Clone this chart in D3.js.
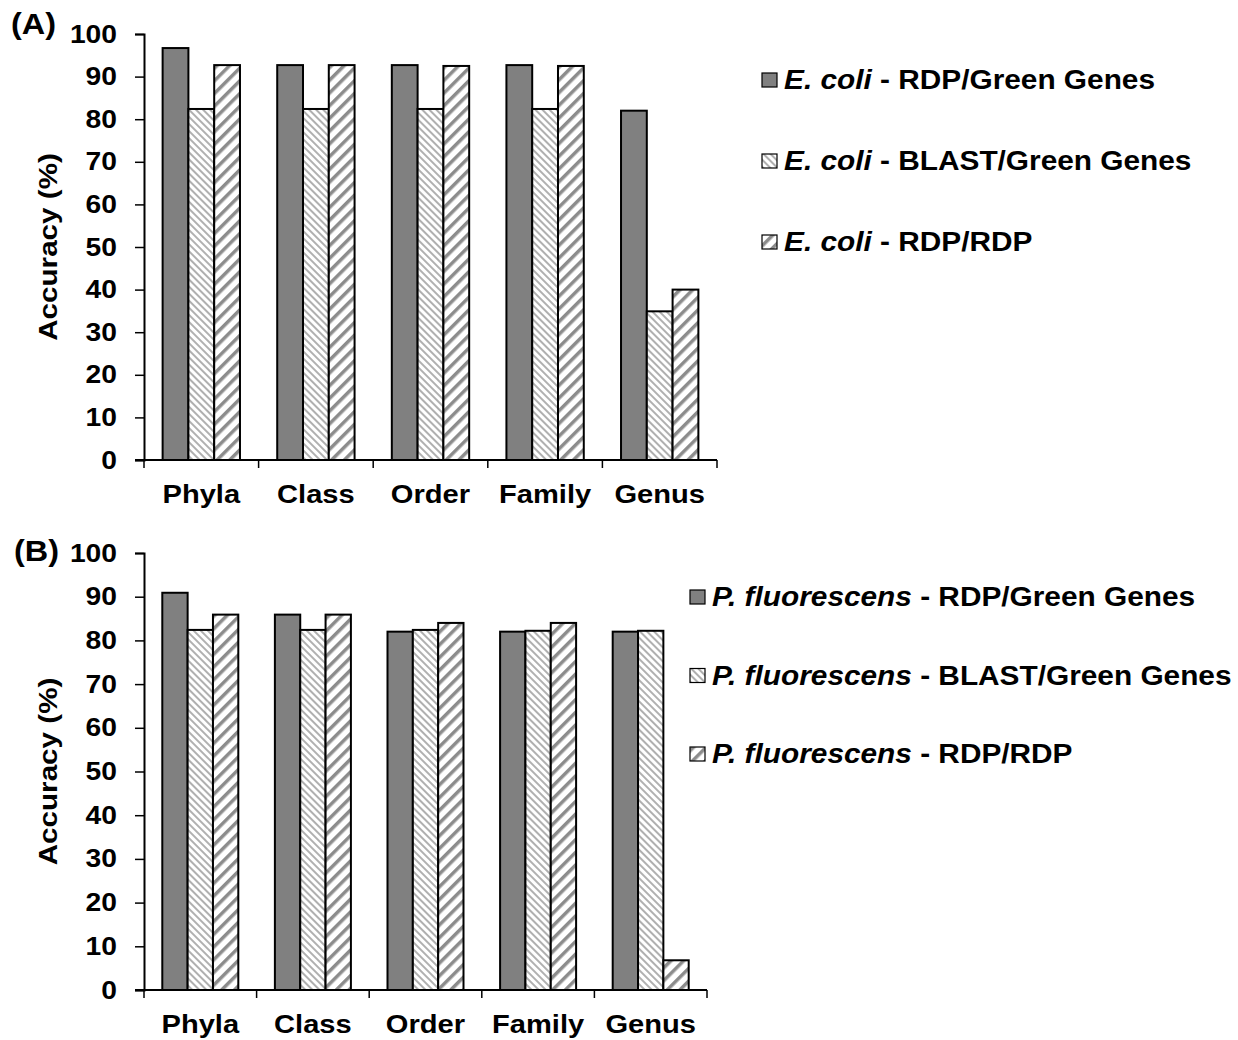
<!DOCTYPE html>
<html>
<head>
<meta charset="utf-8">
<script src="https://cdn.jsdelivr.net/npm/d3@7"></script>
<style>
  body { margin: 0; background: #fff; }
  text { font-family: "Liberation Sans", Arial, sans-serif; font-weight: bold; fill: #000; }
</style>
</head>
<body>
<div id="chart"></div>
<script>
// taxonomic levels
var categories = ["Phyla", "Class", "Order", "Family", "Genus"];
var yTicks = [0, 10, 20, 30, 40, 50, 60, 70, 80, 90, 100];

// (A) E. coli
var ecoliRdpGg   = [96.7, 92.7, 92.7, 92.7, 82.0];
var ecoliBlastGg = [82.4, 82.4, 82.4, 82.4, 34.9];
var ecoliRdpRdp  = [92.7, 92.7, 92.5, 92.5, 40.0];

// (B) P. fluorescens
var pflRdpGg   = [90.9, 85.9, 82.0, 82.0, 82.0];
var pflBlastGg = [82.4, 82.4, 82.4, 82.2, 82.2];
var pflRdpRdp  = [85.9, 85.9, 84.0, 84.0, 6.8];

var seriesNames = ["RDP/Green Genes", "BLAST/Green Genes", "RDP/RDP"];

var svg = d3.select("#chart").append("svg")
  .attr("width", 1238)
  .attr("height", 1040);

// fill patterns
var defs = svg.append("defs");
var p1 = defs.append("pattern")
  .attr("id", "fine")
  .attr("patternUnits", "userSpaceOnUse")
  .attr("width", 5).attr("height", 5)
  .attr("patternTransform", "rotate(-45)");
p1.append("rect").attr("width", 5).attr("height", 5).attr("fill", "#fff");
p1.append("rect").attr("width", 2).attr("height", 5).attr("fill", "#b0b0b0");

var p2 = defs.append("pattern")
  .attr("id", "wide")
  .attr("patternUnits", "userSpaceOnUse")
  .attr("width", 9).attr("height", 9)
  .attr("patternTransform", "rotate(45)");
p2.append("rect").attr("width", 9).attr("height", 9).attr("fill", "#fff");
p2.append("rect").attr("width", 3.5).attr("height", 9).attr("fill", "#8c8c8c");

var fills = ["#808080", "url(#fine)", "url(#wide)"];

// text in the original is a bit wider than Liberation Sans
function wideText(parent, x, y, sx, size) {
  return parent.append("text")
    .attr("transform", "translate(" + x + "," + y + ") scale(" + sx + ",1)")
    .attr("font-size", size);
}

function drawPanel(opt) {
  var x = d3.scaleBand()
    .domain(categories)
    .range([opt.left, opt.right]);

  var y = d3.scaleLinear()
    .domain([0, 100])
    .range([opt.bottom, opt.top]);

  var barW = x.bandwidth() * 0.225;
  var g = svg.append("g");

  // bars
  opt.series.forEach(function(vals, si) {
    g.selectAll(null)
      .data(vals)
      .enter()
      .append("rect")
        .attr("x", function(d, i) { return x(categories[i]) + x.bandwidth() / 2 + (si - 1.5) * barW; })
        .attr("y", function(d) { return y(d); })
        .attr("width", barW)
        .attr("height", function(d) { return opt.bottom - y(d); })
        .attr("fill", fills[si])
        .attr("stroke", "#000")
        .attr("stroke-width", 2);
  });

  // y axis
  var ya = g.append("g")
    .attr("transform", "translate(" + opt.left + ",0)")
    .call(d3.axisLeft(y).tickValues(yTicks).tickSize(9).tickPadding(0));
  ya.select(".domain").attr("stroke-width", 2);
  ya.selectAll(".tick line").attr("stroke-width", 1.5);
  ya.selectAll(".tick text")
    .attr("x", 0)
    .attr("transform", "translate(-27,0) scale(1.13,1)")
    .attr("font-size", 25)
    .attr("font-family", "'Liberation Sans', Arial, sans-serif")
    .attr("font-weight", "bold")
    .attr("fill", "#000");

  // x axis with ticks between categories
  var xa = g.append("g")
    .attr("transform", "translate(0," + opt.bottom + ")");
  xa.append("line")
    .attr("x1", opt.left - 9).attr("x2", opt.right)
    .attr("stroke", "#000").attr("stroke-width", 2);
  var bounds = categories.map(function(c) { return x(c); }).concat([opt.right]);
  xa.selectAll(".bt")
    .data(bounds)
    .enter()
    .append("line")
      .attr("x1", function(d) { return d; })
      .attr("x2", function(d) { return d; })
      .attr("y1", 0).attr("y2", 8)
      .attr("stroke", "#000").attr("stroke-width", 1.5);
  categories.forEach(function(c) {
    wideText(xa, x(c) + x.bandwidth() / 2, 43, 1.12, 26)
      .attr("text-anchor", "middle")
      .text(c);
  });

  // axis title
  g.append("text")
    .attr("transform", "translate(57," + ((opt.top + opt.bottom) / 2) + ") rotate(-90) scale(1.14,1)")
    .attr("text-anchor", "middle")
    .attr("font-size", 26)
    .text("Accuracy (%)");

  // panel tag
  wideText(g, opt.tagX, opt.tagY, 1.08, 30).text(opt.tag);

  // legend
  var lg = g.append("g");
  seriesNames.forEach(function(name, i) {
    var ly = opt.legendY + i * opt.legendStep;
    lg.append("rect")
      .attr("x", opt.legendX)
      .attr("y", ly - 7)
      .attr("width", 15).attr("height", 14)
      .attr("fill", fills[i])
      .attr("stroke", "#000").attr("stroke-width", 1.2);
    var t = wideText(lg, opt.legendX + 22, ly + 9, 1.065, 28);
    t.append("tspan").attr("font-style", "italic").text(opt.organism);
    t.append("tspan").text(" - " + name);
  });
}

drawPanel({
  tag: "(A)", tagX: 11, tagY: 34,
  organism: "E. coli",
  series: [ecoliRdpGg, ecoliBlastGg, ecoliRdpRdp],
  left: 144, right: 717, top: 34, bottom: 460,
  legendX: 762, legendY: 80, legendStep: 81
});

drawPanel({
  tag: "(B)", tagX: 14, tagY: 561,
  organism: "P. fluorescens",
  series: [pflRdpGg, pflBlastGg, pflRdpRdp],
  left: 144, right: 707, top: 553, bottom: 990,
  legendX: 690, legendY: 597, legendStep: 78.5
});
</script>
</body>
</html>
